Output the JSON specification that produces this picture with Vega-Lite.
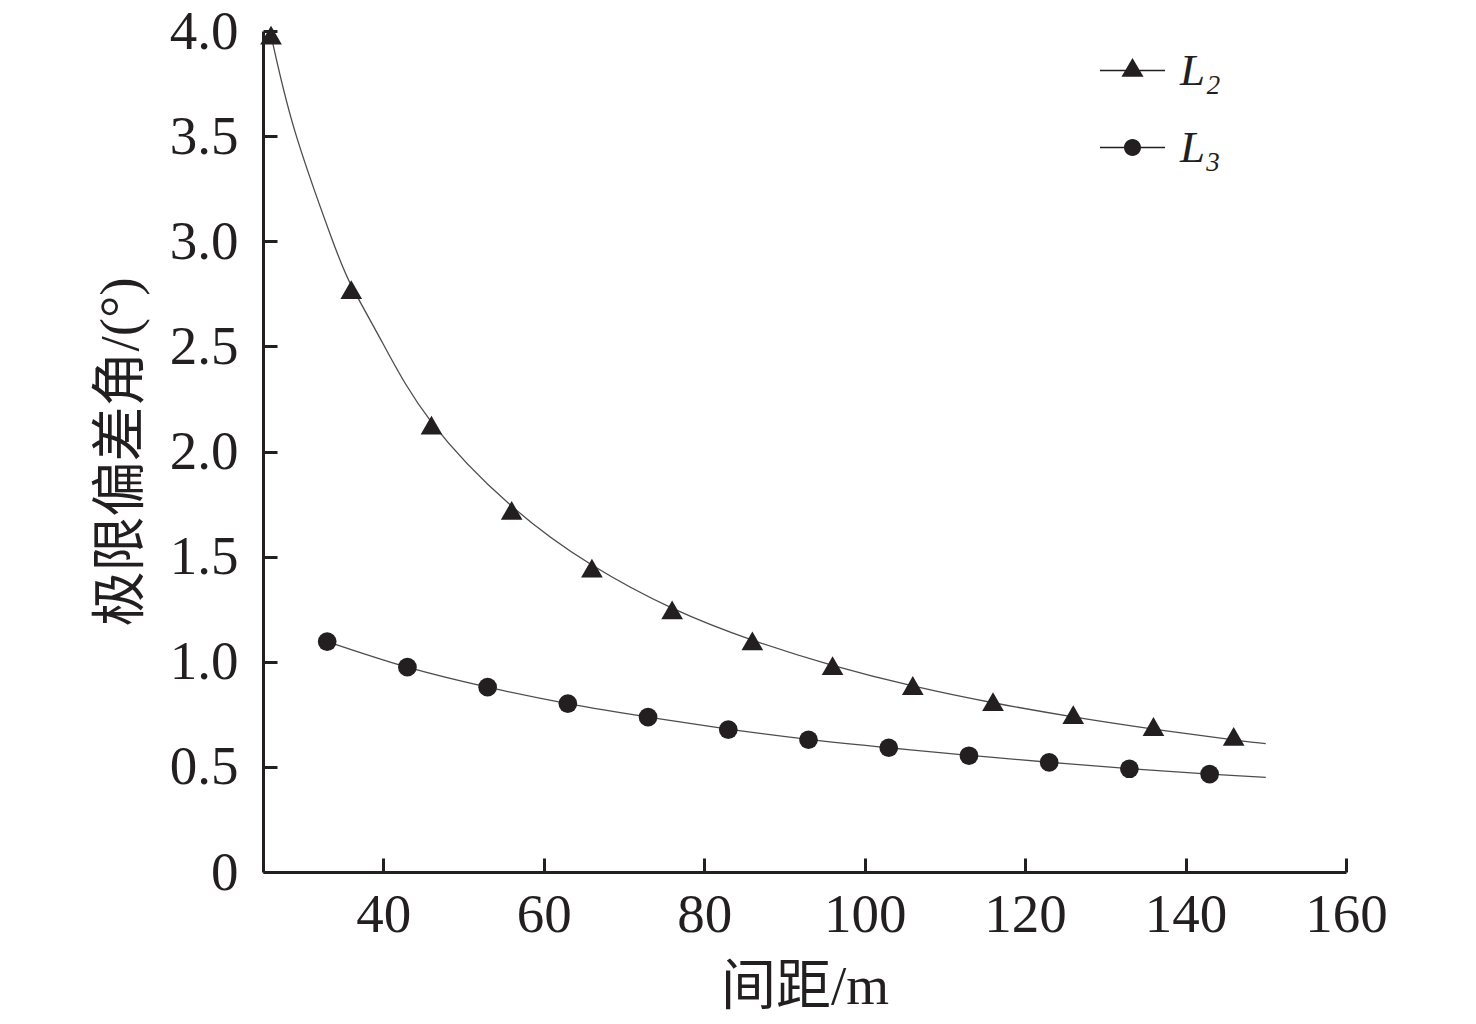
{
  "$schema": "https://vega.github.io/schema/vega-lite/v6.json",
  "autosize": {"type": "none"},
  "padding": {"left": 263, "top": 31, "right": 130, "bottom": 152},
  "width": 1083,
  "height": 841,
  "background": "white",
  "config": {
    "view": {"stroke": null},
    "font": "Liberation Serif",
    "axis": {
      "grid": false,
      "domainColor": "#231f20",
      "domainWidth": 3,
      "tickColor": "#231f20",
      "tickWidth": 3,
      "tickSize": -14,
      "labelFont": "Liberation Serif",
      "labelFontSize": 55,
      "labelColor": "#231f20",
      "labelFlush": false,
      "labelOverlap": false,
      "titleFont": "Liberation Serif, Noto Sans CJK SC",
      "titleFontSize": 55,
      "titleFontWeight": "normal",
      "titleColor": "#231f20"
    }
  },
  "datasets": {
    "points": [
      {"series": "L₂", "spacing": 26, "angle": 3.98},
      {"series": "L₂", "spacing": 36, "angle": 2.77},
      {"series": "L₂", "spacing": 46, "angle": 2.125},
      {"series": "L₂", "spacing": 56, "angle": 1.72},
      {"series": "L₂", "spacing": 66, "angle": 1.445},
      {"series": "L₂", "spacing": 76, "angle": 1.247},
      {"series": "L₂", "spacing": 86, "angle": 1.099},
      {"series": "L₂", "spacing": 96, "angle": 0.982},
      {"series": "L₂", "spacing": 106, "angle": 0.887},
      {"series": "L₂", "spacing": 116, "angle": 0.81},
      {"series": "L₂", "spacing": 126, "angle": 0.748},
      {"series": "L₂", "spacing": 136, "angle": 0.692},
      {"series": "L₂", "spacing": 146, "angle": 0.645},
      {"series": "L₃", "spacing": 33, "angle": 1.096},
      {"series": "L₃", "spacing": 43, "angle": 0.974},
      {"series": "L₃", "spacing": 53, "angle": 0.879},
      {"series": "L₃", "spacing": 63, "angle": 0.801},
      {"series": "L₃", "spacing": 73, "angle": 0.737},
      {"series": "L₃", "spacing": 83, "angle": 0.677},
      {"series": "L₃", "spacing": 93, "angle": 0.629},
      {"series": "L₃", "spacing": 103, "angle": 0.591},
      {"series": "L₃", "spacing": 113, "angle": 0.553},
      {"series": "L₃", "spacing": 123, "angle": 0.521},
      {"series": "L₃", "spacing": 133, "angle": 0.491},
      {"series": "L₃", "spacing": 143, "angle": 0.466}
    ],
    "curves": [
      {"series": "L₂", "spacing": 26, "angle": 3.98},
      {"series": "L₂", "spacing": 29, "angle": 3.52},
      {"series": "L₂", "spacing": 33.5, "angle": 3.02},
      {"series": "L₂", "spacing": 36, "angle": 2.79},
      {"series": "L₂", "spacing": 40, "angle": 2.51},
      {"series": "L₂", "spacing": 46, "angle": 2.14},
      {"series": "L₂", "spacing": 56, "angle": 1.74},
      {"series": "L₂", "spacing": 66, "angle": 1.46},
      {"series": "L₂", "spacing": 76, "angle": 1.255},
      {"series": "L₂", "spacing": 86, "angle": 1.103},
      {"series": "L₂", "spacing": 96, "angle": 0.983},
      {"series": "L₂", "spacing": 106, "angle": 0.885},
      {"series": "L₂", "spacing": 116, "angle": 0.805},
      {"series": "L₂", "spacing": 126, "angle": 0.738},
      {"series": "L₂", "spacing": 136, "angle": 0.68},
      {"series": "L₂", "spacing": 146, "angle": 0.628},
      {"series": "L₂", "spacing": 150, "angle": 0.611},
      {"series": "L₃", "spacing": 33, "angle": 1.096},
      {"series": "L₃", "spacing": 43, "angle": 0.974},
      {"series": "L₃", "spacing": 53, "angle": 0.879},
      {"series": "L₃", "spacing": 63, "angle": 0.801},
      {"series": "L₃", "spacing": 73, "angle": 0.737},
      {"series": "L₃", "spacing": 83, "angle": 0.68},
      {"series": "L₃", "spacing": 93, "angle": 0.631},
      {"series": "L₃", "spacing": 103, "angle": 0.591},
      {"series": "L₃", "spacing": 113, "angle": 0.555},
      {"series": "L₃", "spacing": 123, "angle": 0.522},
      {"series": "L₃", "spacing": 133, "angle": 0.492},
      {"series": "L₃", "spacing": 143, "angle": 0.466},
      {"series": "L₃", "spacing": 150, "angle": 0.45}
    ]
  },
  "encoding": {
    "x": {
      "field": "spacing",
      "type": "quantitative",
      "scale": {"domain": [25, 160], "nice": false, "zero": false},
      "axis": {
        "title": "间距/m",
        "values": [40, 60, 80, 100, 120, 140, 160],
        "labelPadding": 30,
        "titlePadding": 18
      }
    },
    "y": {
      "field": "angle",
      "type": "quantitative",
      "scale": {"domain": [0, 4], "nice": false},
      "axis": {
        "title": "极限偏差角/(°)",
        "values": [0, 0.5, 1, 1.5, 2, 2.5, 3, 3.5, 4],
        "labelExpr": "datum.value == 0 ? '0' : format(datum.value, '.1f')",
        "labelPadding": 39,
        "titlePadding": 20
      }
    }
  },
  "layer": [
    {
      "data": {"name": "curves"},
      "mark": {"type": "line", "interpolate": "natural", "color": "#4d4d4d", "strokeWidth": 1.3},
      "encoding": {"detail": {"field": "series"}}
    },
    {
      "data": {"name": "points"},
      "transform": [{"filter": "datum.series == 'L₂'"}],
      "mark": {"type": "point", "filled": true, "opacity": 1, "color": "#231f20", "shape": "triangle-up", "size": 470}
    },
    {
      "data": {"name": "points"},
      "transform": [{"filter": "datum.series == 'L₃'"}],
      "mark": {"type": "point", "filled": true, "opacity": 1, "color": "#231f20", "shape": "circle", "size": 350}
    },
    {
      "data": {"name": "points"},
      "mark": {"type": "point", "filled": true, "opacity": 0, "color": "#231f20"},
      "encoding": {
        "shape": {
          "field": "series",
          "type": "nominal",
          "scale": {
            "domain": ["L₂", "L₃"],
            "range": [
              "M-3.1,-0.07H3.1V0.07H-3.1Z M-1.05,0.6L0,-1.2L1.05,0.6Z",
              "M-3.1,-0.07H3.1V0.07H-3.1Z M-0.81,0A0.81,0.81 0 1,1 0.81,0A0.81,0.81 0 1,1 -0.81,0Z"
            ]
          },
          "legend": {
            "title": null,
            "orient": "none",
            "legendX": 847,
            "legendY": 17,
            "padding": 0,
            "symbolSize": 441,
            "symbolOpacity": 1,
            "symbolFillColor": "#231f20",
            "labelFont": "Liberation Serif",
            "labelFontStyle": "italic",
            "labelFontSize": 45,
            "labelColor": "#231f20",
            "labelOffset": 25,
            "rowPadding": 31
          }
        }
      }
    }
  ]
}
